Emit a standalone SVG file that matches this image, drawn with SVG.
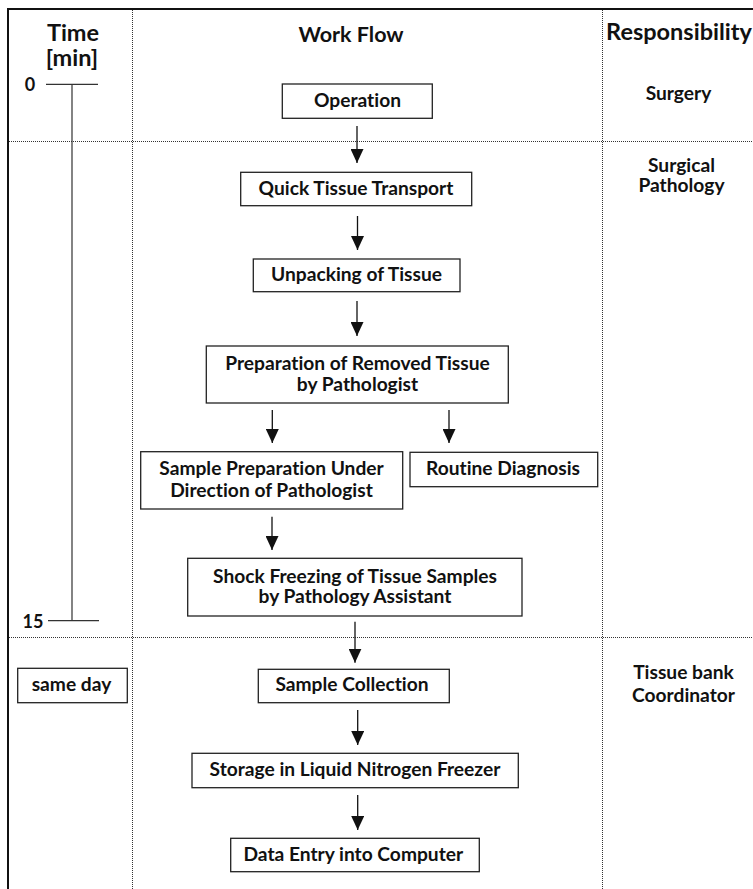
<svg xmlns="http://www.w3.org/2000/svg" width="753" height="889" viewBox="0 0 753 889">
<style>
text{font-family:Lato,"Open Sans","Liberation Sans",sans-serif;font-weight:700;fill:#111;text-anchor:middle;font-variant-ligatures:none}
.h{font-size:23.5px}
.w{font-size:21.5px}
.b{font-size:19.2px}
.t{font-size:18px}
.box{fill:#fff;stroke:#222;stroke-width:1.3}
.dot{stroke:#333;stroke-width:1;stroke-dasharray:1 1;fill:none}
.frame{stroke:#111;stroke-width:2;fill:none}
.arr{stroke:#111;stroke-width:1.3;fill:none;marker-end:url(#ah)}
.axis{stroke:#333;stroke-width:1.2;fill:none}
</style>
<defs>
<marker id="ah" viewBox="0 0 14 13" markerUnits="userSpaceOnUse" markerWidth="14" markerHeight="13" refX="14" refY="6.5" orient="auto">
<path d="M0,0 L14,6.5 L0,13 Z" fill="#111"/>
</marker>
</defs>
<rect width="753" height="889" fill="#fff"/>
<g id="grid">
<path class="frame" d="M8,889 V9 H753"/>
<path class="dot" d="M132.5,10 V889 M602.5,10 V889 M9,141.5 H753 M9,637.5 H753"/>
</g>
<g id="headers">
<text class="h" x="73" y="40.5">Time</text>
<text class="h" x="72" y="66">[min]</text>
<text class="w" x="351" y="42">Work Flow</text>
<text class="h" x="679" y="40">Responsibility</text>
</g>
<g id="time-axis">
<path class="axis" d="M72,84.3 V620.7 M46,84.3 H98 M48,620.7 H99"/>
<text class="t" x="30" y="90.5">0</text>
<text class="t" x="33" y="627.5">15</text>
</g>
<g id="responsibility">
<text class="b" x="678.5" y="99.5">Surgery</text>
<text class="b" x="681.5" y="171.5">Surgical</text>
<text class="b" x="681.5" y="191.5">Pathology</text>
<text class="b" x="683.5" y="679.3">Tissue bank</text>
<text class="b" x="683.5" y="701.7">Coordinator</text>
</g>
<g id="connectors">
<path class="arr" d="M357,126 V163"/>
<path class="arr" d="M357.5,216 V250"/>
<path class="arr" d="M357,301 V336"/>
<path class="arr" d="M272.3,410 V443"/>
<path class="arr" d="M449,410 V443"/>
<path class="arr" d="M272,516.7 V550"/>
<path class="arr" d="M355,621.7 V662.7"/>
<path class="arr" d="M357.7,710 V745"/>
<path class="arr" d="M357.7,795 V830"/>
</g>
<g id="operation">
<rect class="box" x="282.3" y="84" width="150" height="34.3"/>
<text class="b" x="357.5" y="107.3">Operation</text>
</g>
<g id="quick-transport">
<rect class="box" x="240.7" y="172.3" width="231" height="33.4"/>
<text class="b" x="356" y="195">Quick Tissue Transport</text>
</g>
<g id="unpacking">
<rect class="box" x="253.3" y="259" width="206.7" height="32.7"/>
<text class="b" x="356.5" y="280.5">Unpacking of Tissue</text>
</g>
<g id="preparation">
<rect class="box" x="206.3" y="346" width="302" height="57"/>
<text class="b" x="357.5" y="370">Preparation of Removed Tissue</text>
<text class="b" x="357.5" y="390.5">by Pathologist</text>
</g>
<g id="sample-preparation">
<rect class="box" x="140.7" y="451.7" width="262" height="57.3"/>
<text class="b" x="271.5" y="475">Sample Preparation Under</text>
<text class="b" x="271.5" y="496.7">Direction of Pathologist</text>
</g>
<g id="routine-diagnosis">
<rect class="box" x="410" y="452.3" width="187.7" height="34.4"/>
<text class="b" x="503" y="475">Routine Diagnosis</text>
</g>
<g id="shock-freezing">
<rect class="box" x="187.7" y="558.3" width="334.3" height="57.7"/>
<text class="b" x="355" y="582.5">Shock Freezing of Tissue Samples</text>
<text class="b" x="355" y="602.5">by Pathology Assistant</text>
</g>
<g id="same-day">
<rect class="box" x="17.7" y="668.3" width="109.6" height="34.4"/>
<text class="b" x="71.5" y="690.7">same day</text>
</g>
<g id="sample-collection">
<rect class="box" x="258.3" y="669.3" width="191" height="33.4"/>
<text class="b" x="352" y="690.7">Sample Collection</text>
</g>
<g id="storage">
<rect class="box" x="192" y="753.3" width="326.3" height="34.4"/>
<text class="b" x="355" y="776">Storage in Liquid Nitrogen Freezer</text>
</g>
<g id="data-entry">
<rect class="box" x="230.7" y="838.3" width="248.6" height="33.4"/>
<text class="b" x="353.3" y="861">Data Entry into Computer</text>
</g>
</svg>
